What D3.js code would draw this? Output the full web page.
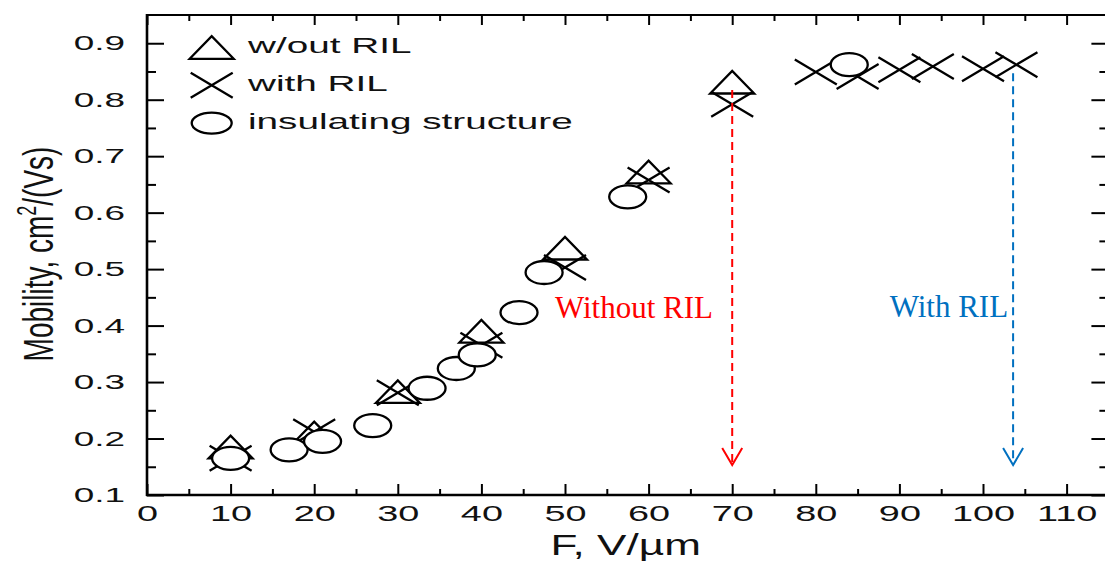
<!DOCTYPE html>
<html>
<head>
<meta charset="utf-8">
<script src="https://cdn.jsdelivr.net/npm/d3@7"></script>
<style>
  html, body { margin: 0; padding: 0; background: #fff; }
  svg { display: block; }
</style>
</head>
<body>
<script>
// ---- data: field strength F (V/µm) and mobility (cm²/(Vs)) ----
const fieldWithout = [10, 20, 30, 40, 50, 60, 70];
const mobWithout   = [0.185, 0.21, 0.283, 0.39, 0.537, 0.672, 0.831];

const fieldWith = [10, 20, 30, 40, 50, 60, 70, 80, 85, 90, 94, 100, 104];
const mobWith   = [0.165, 0.212, 0.281, 0.365, 0.503, 0.658, 0.792, 0.849, 0.841, 0.853, 0.859, 0.855, 0.862];

const fieldInsul = [10, 17, 21, 27, 33.5, 37, 39.5, 44.5, 47.5, 57.5, 84];
const mobInsul   = [0.165, 0.18, 0.195, 0.223, 0.289, 0.324, 0.348, 0.423, 0.494, 0.628, 0.862];

// breakdown-field annotations
const arrowField  = [70, 103.6];
const arrowTop    = [0.817, 0.847];
const arrowTip    = [0.153, 0.153];
const arrowLabels = ["Without RIL", "With RIL"];
const arrowColors = ["#ff0000", "#0070c0"];
const labelField  = [67.7, 103.0];
const labelMob    = [0.414, 0.415];

// axis ticks
const xTicks = [0, 10, 20, 30, 40, 50, 60, 70, 80, 90, 100, 110];
const xMinor = [5, 15, 25, 35, 45, 55, 65, 75, 85, 95, 105];
const yTicks = [0.1, 0.2, 0.3, 0.4, 0.5, 0.6, 0.7, 0.8, 0.9];
const yMinor = [0.15, 0.25, 0.35, 0.45, 0.55, 0.65, 0.75, 0.85];

const legendLabels = ["w/out RIL", "with RIL", "insulating structure"];

// ---- layout ----
const W = 1105, H = 563;
const plotL = 147, plotT = 15, plotB = 495, plotR = 1108.4;
const sans = "'Liberation Sans', Arial, Helvetica, sans-serif";
const serif = "'Liberation Serif', 'Times New Roman', serif";
const stretch = 1.76;   // glyphs are drawn wide

const svg = d3.select("body").append("svg").attr("width", W).attr("height", H);
svg.append("rect").attr("width", W).attr("height", H).attr("fill", "#fff");

const x = d3.scaleLinear().domain([0, 115]).range([plotL, plotR]);
const y = d3.scaleLinear().domain([0.1, 0.95]).range([plotB, plotT]);

function tidy(g, fontSize) {
  g.select(".domain").remove();
  g.selectAll(".tick line").attr("stroke", "#000").attr("stroke-width", 2);
  g.selectAll("text")
    .attr("font-family", sans)
    .attr("font-size", fontSize)
    .attr("fill", "#111")
    .attr("transform", `scale(${stretch},1)`);
}

// bottom axis
svg.append("g").attr("transform", `translate(0,${plotB})`)
  .call(d3.axisBottom(x).tickValues(xTicks).tickSizeInner(-11).tickSizeOuter(0)
        .tickPadding(11).tickFormat(d3.format("d")))
  .call(g => tidy(g, 21.5));
svg.append("g").attr("transform", `translate(0,${plotB})`)
  .call(d3.axisBottom(x).tickValues(xMinor).tickSizeInner(-6).tickSizeOuter(0).tickFormat(() => ""))
  .call(g => tidy(g, 10));

// top axis
svg.append("g").attr("transform", `translate(0,${plotT})`)
  .call(d3.axisTop(x).tickValues(xTicks).tickSizeInner(-10).tickSizeOuter(0).tickFormat(() => ""))
  .call(g => tidy(g, 10));
svg.append("g").attr("transform", `translate(0,${plotT})`)
  .call(d3.axisTop(x).tickValues(xMinor).tickSizeInner(-6).tickSizeOuter(0).tickFormat(() => ""))
  .call(g => tidy(g, 10));

// left axis
svg.append("g").attr("transform", `translate(${plotL},0)`)
  .call(d3.axisLeft(y).tickValues(yTicks).tickSizeInner(-17).tickSizeOuter(0)
        .tickPadding(22 / stretch).tickFormat(d3.format(".1f")))
  .call(g => tidy(g, 21));
svg.append("g").attr("transform", `translate(${plotL},0)`)
  .call(d3.axisLeft(y).tickValues(yMinor).tickSizeInner(-9).tickSizeOuter(0).tickFormat(() => ""))
  .call(g => tidy(g, 10));

// right axis
svg.append("g").attr("transform", `translate(${plotR},0)`)
  .call(d3.axisRight(y).tickValues(yTicks).tickSizeInner(-17).tickSizeOuter(0).tickFormat(() => ""))
  .call(g => tidy(g, 10));
svg.append("g").attr("transform", `translate(${plotR},0)`)
  .call(d3.axisRight(y).tickValues(yMinor).tickSizeInner(-9).tickSizeOuter(0).tickFormat(() => ""))
  .call(g => tidy(g, 10));

// frame
const frame = svg.append("g").attr("stroke", "#000");
frame.append("line").attr("x1", plotL).attr("x2", plotL).attr("y1", plotT - 1).attr("y2", plotB + 1).attr("stroke-width", 2.6);
frame.append("line").attr("x1", plotL - 1).attr("x2", plotR).attr("y1", plotB).attr("y2", plotB).attr("stroke-width", 2.4);
frame.append("line").attr("x1", plotL - 1).attr("x2", plotR).attr("y1", plotT).attr("y2", plotT).attr("stroke-width", 2);
frame.append("line").attr("x1", plotR).attr("x2", plotR).attr("y1", plotT).attr("y2", plotB).attr("stroke-width", 2);

// axis titles
svg.append("text")
  .attr("transform", `translate(${(plotL + plotR) / 2 - 2},555) scale(1.47,1)`)
  .attr("text-anchor", "middle")
  .attr("font-family", sans).attr("font-size", 30).attr("fill", "#111")
  .text("F, V/\u00b5m");

const yTitle = svg.append("text")
  .attr("transform", `translate(53,${(plotT + plotB) / 2 - 1}) scale(1.55,1) rotate(-90)`)
  .attr("text-anchor", "middle")
  .attr("font-family", sans).attr("font-size", 28).attr("fill", "#111");
yTitle.append("tspan").text("Mobility, cm");
yTitle.append("tspan").attr("font-size", 18).attr("dy", -11).text("2");
yTitle.append("tspan").attr("dy", 11).text("/(Vs)");

// marker shapes
const triPath = (cx, cy, hw = 22, hh = 11.3) =>
  `M${cx - hw},${cy + hh}L${cx},${cy - hh}L${cx + hw},${cy + hh}Z`;
const crossPath = (cx, cy, hw = 21, hh = 12.5) =>
  `M${cx - hw},${cy - hh}L${cx + hw},${cy + hh}M${cx - hw},${cy + hh}L${cx + hw},${cy - hh}`;

const marks = svg.append("g").attr("stroke", "#000").attr("stroke-width", 2.3).attr("fill", "none");

marks.selectAll("path.tri").data(d3.zip(fieldWithout, mobWithout)).join("path")
  .attr("class", "tri").attr("d", ([f, m]) => triPath(x(f), y(m)));

marks.selectAll("path.cross").data(d3.zip(fieldWith, mobWith)).join("path")
  .attr("class", "cross").attr("d", ([f, m]) => crossPath(x(f), y(m)));

marks.selectAll("ellipse.ins").data(d3.zip(fieldInsul, mobInsul)).join("ellipse")
  .attr("class", "ins").attr("fill", "#fff")
  .attr("cx", ([f]) => x(f)).attr("cy", ([, m]) => y(m)).attr("rx", 18.5).attr("ry", 11.5);

// legend
const legend = svg.append("g");
const legX = 211.7, legY0 = 47.5, legDy = 37.8;
legendLabels.forEach((label, i) => {
  const cy = legY0 + i * legDy;
  const sym = legend.append(i === 2 ? "ellipse" : "path")
    .attr("stroke", "#000").attr("stroke-width", 2.3).attr("fill", "none");
  if (i === 0) sym.attr("d", triPath(legX, cy));
  else if (i === 1) sym.attr("d", crossPath(legX, cy));
  else sym.attr("cx", legX).attr("cy", cy).attr("rx", 20).attr("ry", 10.5);
  legend.append("text")
    .attr("transform", `translate(248,${cy + 5.8}) scale(${stretch},1)`)
    .attr("font-family", sans).attr("font-size", 22).attr("fill", "#111")
    .text(label);
});

// breakdown arrows and labels
const ann = svg.append("g");
arrowField.forEach((f, i) => {
  const ax = x(f), y0 = y(arrowTop[i]), y1 = y(arrowTip[i]);
  ann.append("line")
    .attr("x1", ax).attr("x2", ax).attr("y1", y0).attr("y2", y1)
    .attr("stroke", arrowColors[i]).attr("stroke-width", 2)
    .attr("stroke-dasharray", "8,5");
  ann.append("path")
    .attr("d", `M${ax - 10},${y1 - 17}L${ax},${y1}L${ax + 10},${y1 - 17}`)
    .attr("stroke", arrowColors[i]).attr("stroke-width", 2).attr("fill", "none");
  ann.append("text")
    .attr("x", x(labelField[i])).attr("y", y(labelMob[i]))
    .attr("text-anchor", "end")
    .attr("font-family", serif).attr("font-size", 31).attr("fill", arrowColors[i])
    .text(arrowLabels[i]);
});
</script>
</body>
</html>
